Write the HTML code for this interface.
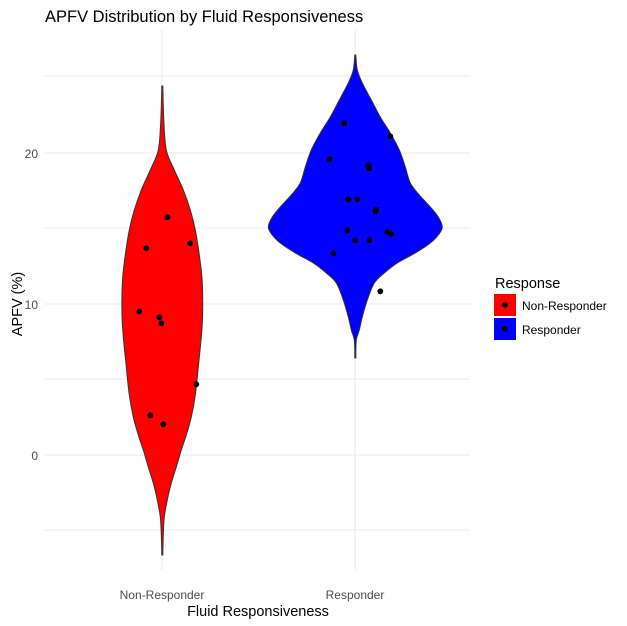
<!DOCTYPE html>
<html><head><style>body{margin:0;background:#fff}svg{display:block;font-family:"Liberation Sans",Arial,sans-serif}</style></head>
<body>
<svg width="627" height="626" viewBox="0 0 627 626">
<g stroke="#ebebeb" stroke-width="1.1">
<line x1="45" x2="470" y1="76" y2="76"/><line x1="45" x2="470" y1="228" y2="228"/><line x1="45" x2="470" y1="379" y2="379"/><line x1="45" x2="470" y1="530" y2="530"/>
<line x1="45" x2="470" y1="153" y2="153"/><line x1="45" x2="470" y1="304" y2="304"/><line x1="45" x2="470" y1="455" y2="455"/>
<line x1="162" x2="162" y1="30" y2="570"/><line x1="355" x2="355" y1="30" y2="570"/>
</g>
<path id="red" fill="#ff0000" stroke="#333" stroke-width="1" d=""/>
<path id="blue" fill="#0000ff" stroke="#333" stroke-width="1" d=""/>
<g fill="#000">
<circle cx="167.3" cy="217.3" r="2.9"/><circle cx="146.3" cy="248.3" r="2.9"/><circle cx="190.3" cy="243.3" r="2.9"/><circle cx="139.3" cy="311.3" r="2.9"/><circle cx="159.3" cy="317.3" r="2.9"/><circle cx="161.3" cy="323.3" r="2.9"/><circle cx="196.3" cy="384.3" r="2.9"/><circle cx="150.3" cy="415.3" r="2.9"/><circle cx="163.3" cy="424.3" r="2.9"/>
<circle cx="344.3" cy="123.3" r="2.9"/><circle cx="390.3" cy="136.3" r="2.9"/><circle cx="329.3" cy="159.3" r="2.9"/><circle cx="368.3" cy="165.3" r="2.9"/><circle cx="369.3" cy="168.3" r="2.9"/><circle cx="348.3" cy="199.3" r="2.9"/><circle cx="357.3" cy="199.3" r="2.9"/><circle cx="376.3" cy="209.7" r="2.9"/><circle cx="375.3" cy="211.3" r="2.9"/><circle cx="347.3" cy="230.3" r="2.9"/><circle cx="387.3" cy="232" r="2.9"/><circle cx="391.3" cy="234" r="2.9"/><circle cx="355.3" cy="240.3" r="2.9"/><circle cx="369.3" cy="240.3" r="2.9"/><circle cx="333.3" cy="253.3" r="2.9"/><circle cx="380.3" cy="291.3" r="2.9"/>
</g>
<text x="45" y="22" font-size="16.5" fill="#000">APFV Distribution by Fluid Responsiveness</text>
<g font-size="12" fill="#4d4d4d" text-anchor="end">
<text x="38" y="158">20</text><text x="38" y="309">10</text><text x="38" y="460">0</text>
</g>
<g font-size="12" fill="#4d4d4d" text-anchor="middle">
<text x="162" y="599">Non-Responder</text><text x="355" y="599">Responder</text>
</g>
<text x="258" y="616" font-size="14.5" text-anchor="middle">Fluid Responsiveness</text>
<text transform="translate(22,304) rotate(-90)" font-size="14.5" text-anchor="middle">APFV (%)</text>
<text x="495" y="288" font-size="14.5">Response</text>
<rect x="494" y="294" width="22" height="22" fill="#ff0000"/>
<rect x="494" y="318" width="22" height="22" fill="#0000ff"/>
<circle cx="505" cy="305" r="2.9"/><circle cx="505" cy="329" r="2.9"/>
<text x="522" y="310" font-size="12">Non-Responder</text>
<text x="522" y="334" font-size="12">Responder</text>
</svg>
<script>
function cr(P){var d="M"+P[0][0]+","+P[0][1];for(var i=0;i<P.length-1;i++){var p0=P[Math.max(0,i-1)],p1=P[i],p2=P[i+1],p3=P[Math.min(P.length-1,i+2)];d+=" C"+(p1[0]+(p2[0]-p0[0])/6)+","+(p1[1]+(p2[1]-p0[1])/6)+" "+(p2[0]-(p3[0]-p1[0])/6)+","+(p2[1]-(p3[1]-p1[1])/6)+" "+p2[0]+","+p2[1];}return d;}
function build(id,cx,pts){var r=[],l=[];pts.forEach(function(p){r.push([cx+p[1],p[0]]);});for(var i=pts.length-1;i>=0;i--){l.push([cx-pts[i][1],pts[i][0]]);}document.getElementById(id).setAttribute("d",cr(r)+" L"+cr(l).slice(1)+"Z");}
build("red",162.3,[[86,0.5],[120,1.5],[150,4],[170,12],[190,21],[210,28],[230,33],[255,37],[283,40],[323,40],[367,36],[395,33],[417,29],[435,24],[450,19],[467,14],[483,9],[500,5],[517,2],[535,1],[555,0.5]]);
build("blue",355.3,[[55,0.5],[70,2],[83,7],[100,16],[117,25],[133,35],[150,44],[167,50],[183,55],[195,64],[207,75],[217,83],[227,87],[235,83],[243,75],[253,60],[263,42],[273,29],[283,19],[300,12],[317,7],[330,4],[340,1],[358,0.5]]);
</script>
</body></html>
